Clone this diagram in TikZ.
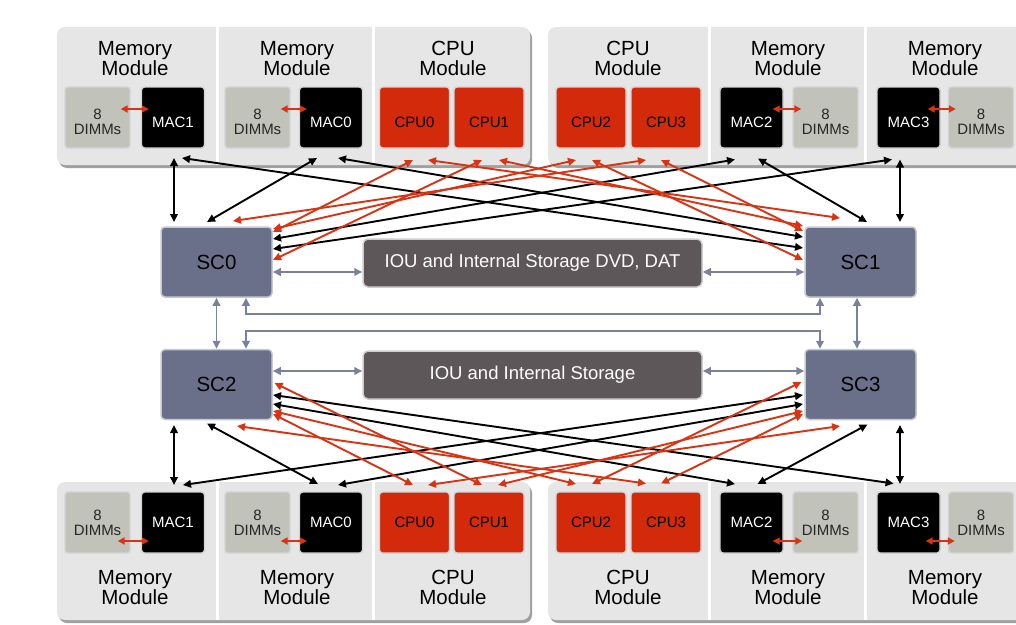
\documentclass[tikz,border=0pt]{standalone}
\usepackage{fontspec}
\setmainfont{Liberation Sans}
\usetikzlibrary{arrows.meta,calc}

\definecolor{boardgray}{RGB}{230,230,230}
\definecolor{shadegray}{RGB}{160,160,160}
\definecolor{dimmgray}{RGB}{193,195,186}
\definecolor{unitedge}{RGB}{212,212,212}
\definecolor{cpured}{RGB}{212,42,12}
\definecolor{linkred}{RGB}{216,52,20}
\definecolor{scfill}{RGB}{107,112,138}
\definecolor{scedge}{RGB}{200,201,207}
\definecolor{ioufill}{RGB}{94,87,89}
\definecolor{iouedge}{RGB}{205,205,205}
\definecolor{slatelink}{RGB}{124,129,155}

\tikzset{
  >={Triangle[length=8pt,width=7.5pt]},
  boardshade/.style={fill=shadegray, rounded corners=8pt},
  boardface/.style={fill=boardgray, rounded corners=8pt},
  divider/.style={draw=white, line width=3pt},
  title/.style={font=\fontsize{20.5}{19.5}\selectfont, align=center, inner sep=0pt, text=black},
  unit/.style={minimum height=61pt, inner sep=0pt, rounded corners=3pt, draw=unitedge, line width=1.4pt},
  dimm/.style={unit, fill=dimmgray, minimum width=65pt},
  macbox/.style={unit, fill=black, minimum width=63pt},
  cpubox/.style={unit, fill=cpured, minimum width=70pt},
  dtxt/.style={font=\fontsize{15}{15}\selectfont, align=center, inner sep=0pt, text=black!85},
  mtxt/.style={font=\fontsize{15}{15}\selectfont, inner sep=0pt, text=white},
  ctxt/.style={font=\fontsize{15}{15}\selectfont, inner sep=0pt, text=black},
  scbox/.style={fill=scfill, draw=scedge, line width=1.5pt, rounded corners=4pt,
    minimum width=111pt, minimum height=70pt, inner sep=0pt,
    font=\fontsize{20.5}{20.5}\selectfont, text=black},
  ioubox/.style={fill=ioufill, draw=iouedge, line width=1.5pt, rounded corners=5pt,
    minimum width=339pt, minimum height=48pt, inner sep=0pt,
    font=\fontsize{18.5}{18.5}\selectfont, text=white},
  blk/.style={draw=black, line width=1.9pt, <->},
  rlink/.style={draw=linkred, line width=1.9pt, <->},
  slink/.style={draw=slatelink, line width=1.9pt, <->},
  dlink/.style={draw=linkred, line width=1.9pt,
    {Triangle[length=7pt,width=7pt]}-{Triangle[length=7pt,width=7pt]}},
}

\begin{document}
\begin{tikzpicture}[x=1pt,y=-1pt]
\useasboundingbox (0,0) rectangle (1016,624);
\fill[white] (0,0) rectangle (1016,624);

% ---------- module boards ----------
\fill[boardshade] (59,30) rectangle (532,168);
\fill[boardface]  (57,27) rectangle (530,165);
\fill[boardshade] (550,30) rectangle (1030,168);
\fill[boardface]  (548,27) rectangle (1030,165);
\fill[boardshade] (59,485) rectangle (532,623);
\fill[boardface]  (57,482) rectangle (530,620);
\fill[boardshade] (550,485) rectangle (1030,623);
\fill[boardface]  (548,482) rectangle (1030,620);
\foreach \xx in {217,373,709,865} {
  \draw[divider] (\xx,27) -- (\xx,165);
  \draw[divider] (\xx,482) -- (\xx,620);
}

% ---------- board titles ----------
\node[title] (tA) at (135,58.4) {Memory\\Module};
\node[title] (tB) at (297,58.4) {Memory\\Module};
\node[title] (tC) at (453,58.4) {CPU\\Module};
\node[title] (tD) at (628,58.4) {CPU\\Module};
\node[title] (tE) at (788,58.4) {Memory\\Module};
\node[title] (tF) at (945,58.4) {Memory\\Module};
\node[title] (bA) at (135,587.4) {Memory\\Module};
\node[title] (bB) at (297,587.4) {Memory\\Module};
\node[title] (bC) at (453,587.4) {CPU\\Module};
\node[title] (bD) at (628,587.4) {CPU\\Module};
\node[title] (bE) at (788,587.4) {Memory\\Module};
\node[title] (bF) at (945,587.4) {Memory\\Module};

% ---------- upper units ----------
\node[dimm,   label={[dtxt,yshift=-4.5pt]center:{8\\DIMMs}}] (dimA) at (97.5,117.5) {};
\node[macbox, label={[mtxt,yshift=-5pt]center:MAC1}] (mac1) at (173,117.5) {};
\node[dimm,   label={[dtxt,yshift=-4.5pt]center:{8\\DIMMs}}] (dimB) at (257.5,117.5) {};
\node[macbox, label={[mtxt,yshift=-5pt]center:MAC0}] (mac0) at (331,117.5) {};
\node[cpubox, label={[ctxt,yshift=-5pt]center:CPU0}] (cpu0) at (414.5,117.5) {};
\node[cpubox, label={[ctxt,yshift=-5pt]center:CPU1}] (cpu1) at (489,117.5) {};
\node[cpubox, label={[ctxt,yshift=-5pt]center:CPU2}] (cpu2) at (591,117.5) {};
\node[cpubox, label={[ctxt,yshift=-5pt]center:CPU3}] (cpu3) at (666,117.5) {};
\node[macbox, label={[mtxt,yshift=-5pt]center:MAC2}] (mac2) at (751.5,117.5) {};
\node[dimm,   label={[dtxt,yshift=-4.5pt]center:{8\\DIMMs}}] (dimC) at (825.5,117.5) {};
\node[macbox, label={[mtxt,yshift=-5pt]center:MAC3}] (mac3) at (908.5,117.5) {};
\node[dimm,   label={[dtxt,yshift=-4.5pt]center:{8\\DIMMs}}] (dimD) at (981,117.5) {};

% ---------- lower units ----------
\node[dimm,   label={[dtxt]center:{8\\DIMMs}}] (dimAb) at (97.5,522.5) {};
\node[macbox, label={[mtxt]center:MAC1}] (mac1b) at (173,522.5) {};
\node[dimm,   label={[dtxt]center:{8\\DIMMs}}] (dimBb) at (257.5,522.5) {};
\node[macbox, label={[mtxt]center:MAC0}] (mac0b) at (331,522.5) {};
\node[cpubox, label={[ctxt]center:CPU0}] (cpu0b) at (414.5,522.5) {};
\node[cpubox, label={[ctxt]center:CPU1}] (cpu1b) at (489,522.5) {};
\node[cpubox, label={[ctxt]center:CPU2}] (cpu2b) at (591,522.5) {};
\node[cpubox, label={[ctxt]center:CPU3}] (cpu3b) at (666,522.5) {};
\node[macbox, label={[mtxt]center:MAC2}] (mac2b) at (751.5,522.5) {};
\node[dimm,   label={[dtxt]center:{8\\DIMMs}}] (dimCb) at (825.5,522.5) {};
\node[macbox, label={[mtxt]center:MAC3}] (mac3b) at (908.5,522.5) {};
\node[dimm,   label={[dtxt]center:{8\\DIMMs}}] (dimDb) at (981,522.5) {};

% ---------- DIMM <-> MAC links ----------
\draw[dlink] ($(dimA.east)+(-10,-8.5)$) -- ($(mac1.west)+(8,-8.5)$);
\draw[dlink] ($(dimB.east)+(-10,-8.5)$) -- ($(mac0.west)+(8,-8.5)$);
\draw[dlink] ($(mac2.east)+(-11,-8.5)$) -- ($(dimC.west)+(9,-8.5)$);
\draw[dlink] ($(mac3.east)+(-13,-8.5)$) -- ($(dimD.west)+(8,-8.5)$);
\draw[dlink] ($(dimAb.east)+(-13,18.5)$) -- ($(mac1b.west)+(8,18.5)$);
\draw[dlink] ($(dimBb.east)+(-10,18.5)$) -- ($(mac0b.west)+(8,18.5)$);
\draw[dlink] ($(mac2b.east)+(-11,18.5)$) -- ($(dimCb.west)+(10,18.5)$);
\draw[dlink] ($(mac3b.east)+(-15,18.5)$) -- ($(dimDb.west)+(7,18.5)$);

% ---------- system controllers and I/O units ----------
\node[scbox] (sc0) at (216.5,262) {SC0};
\node[scbox] (sc1) at (860.5,262) {SC1};
\node[scbox] (sc2) at (216.5,384.5) {SC2};
\node[scbox] (sc3) at (860.5,384.5) {SC3};
\node[ioubox] (iou1) at (532.5,263) {IOU and Internal Storage DVD, DAT};
\node[ioubox] (iou2) at (532.5,375) {IOU and Internal Storage};

% ---------- controller links ----------
\draw[slink] ($(sc0.east)+(0,10)$) -- ($(iou1.west)+(0,9)$);
\draw[slink] ($(iou1.east)+(0,9)$) -- ($(sc1.west)+(0,10)$);
\draw[slink] ($(sc2.east)+(0,-13.5)$) -- ($(iou2.west)+(0,-4)$);
\draw[slink] ($(iou2.east)+(0,-4)$) -- ($(sc3.west)+(0,-13.5)$);
\draw[slink] (sc0.south) -- (sc2.north);
\draw[slink] ($(sc1.south)+(-3.5,0)$) -- ($(sc3.north)+(-3.5,0)$);
\draw[slink] ($(sc0.south)+(29.5,0)$) -- ++(0,16) -| ($(sc1.south)+(-40.5,0)$);
\draw[slink] ($(sc2.north)+(29.5,0)$) -- ++(0,-17.5) -| ($(sc3.north)+(-40.5,0)$);

% ---------- upper memory links ----------
\draw[blk] ($(mac1)+(1,40.5)$)     -- ($(sc0)+(-42.5,-40)$);
\draw[blk] ($(mac1)+(9,40.5)$)     -- ($(sc1)+(-57.5,-14)$);
\draw[blk] ($(mac0)+(-14,40.5)$)   -- ($(sc0)+(-9.5,-40)$);
\draw[blk] ($(mac0)+(7,40.5)$)     -- ($(sc1)+(-57.5,-25)$);
\draw[blk] ($(mac2)+(-16.5,42)$)   -- ($(sc0)+(56.5,-23)$);
\draw[blk] ($(mac2)+(6.5,41)$)     -- ($(sc1)+(6.5,-40)$);
\draw[blk] ($(mac3)+(-16.5,42)$)   -- ($(sc0)+(56.5,-13)$);
\draw[blk] ($(mac3)+(-8.5,42)$)    -- ($(sc1)+(39.5,-40)$);

% ---------- upper CPU links ----------
\draw[rlink] ($(cpu0)+(-1.5,42.5)$) -- ($(sc0)+(56.5,-30)$);
\draw[rlink] ($(cpu0)+(13.5,42.5)$) -- ($(sc1)+(-20.5,-44)$);
\draw[rlink] ($(cpu1)+(-7,42.5)$)   -- ($(sc0)+(56.5,-2)$);
\draw[rlink] ($(cpu1)+(10,42.5)$)   -- ($(sc1)+(-57.5,-36)$);
\draw[rlink] ($(cpu2)+(-15,42.5)$)  -- ($(sc0)+(56.5,-33)$);
\draw[rlink] ($(cpu2)+(1,42.5)$)    -- ($(sc1)+(-57.5,-2)$);
\draw[rlink] ($(cpu3)+(-20,42.5)$)  -- ($(sc0)+(16.5,-41)$);
\draw[rlink] ($(cpu3)+(-5,42.5)$)   -- ($(sc1)+(-57.5,-31)$);

% ---------- lower memory links ----------
\draw[blk] ($(mac1b)+(1,-37.5)$)     -- ($(sc2)+(-42.5,40.5)$);
\draw[blk] ($(mac1b)+(10,-37.5)$)    -- ($(sc3)+(-57.5,10.5)$);
\draw[blk] ($(mac0b)+(-13,-38.5)$)   -- ($(sc2)+(-9.5,39)$);
\draw[blk] ($(mac0b)+(7,-37.5)$)     -- ($(sc3)+(-57.5,19.5)$);
\draw[blk] ($(mac2b)+(-16.5,-38.5)$) -- ($(sc2)+(56.5,19.5)$);
\draw[blk] ($(mac2b)+(6,-38.5)$)     -- ($(sc3)+(7,40)$);
\draw[blk] ($(mac3b)+(-15,-39)$)     -- ($(sc2)+(56.5,10.5)$);
\draw[blk] ($(mac3b)+(-8.5,-38.5)$)  -- ($(sc3)+(39.5,40.5)$);

% ---------- lower CPU links ----------
\draw[rlink] ($(cpu0b)+(-1.5,-37.5)$) -- ($(sc2)+(56.5,29.5)$);
\draw[rlink] ($(cpu0b)+(13.5,-37.5)$) -- ($(sc3)+(-20.5,41.5)$);
\draw[rlink] ($(cpu1b)+(-7,-37.5)$)   -- ($(sc2)+(58,-1.5)$);
\draw[rlink] ($(cpu1b)+(9,-37.5)$)    -- ($(sc3)+(-57.5,26.5)$);
\draw[rlink] ($(cpu2b)+(-15,-38.5)$)  -- ($(sc2)+(56.5,26.5)$);
\draw[rlink] ($(cpu2b)+(1,-38.5)$)    -- ($(sc3)+(-59,-2.5)$);
\draw[rlink] ($(cpu3b)+(-20,-39)$)    -- ($(sc2)+(20.5,41.5)$);
\draw[rlink] ($(cpu3b)+(-5,-39)$)     -- ($(sc3)+(-57.5,29.5)$);
\end{tikzpicture}
\end{document}
